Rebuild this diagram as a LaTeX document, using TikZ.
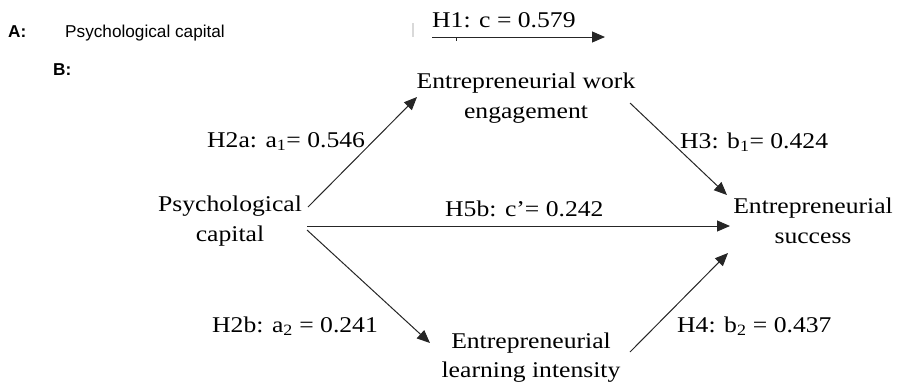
\documentclass[tikz,border=0pt]{standalone}
\usepackage{fontspec}
\setmainfont[FakeStretch=1.14]{Liberation Serif}
\newfontfamily\arialf{Liberation Sans}
\usetikzlibrary{arrows.meta}
\begin{document}
\begin{tikzpicture}[x=1pt,y=-1pt,
  lbl/.style={inner sep=0pt,font=\fontsize{22.5}{30}\selectfont},
  var/.style={lbl,align=center},
  sml/.style={inner sep=0pt,font=\arialf\fontsize{17.2}{20}\selectfont},
  smb/.style={inner sep=0pt,font=\arialf\bfseries\fontsize{17.2}{20}\selectfont},
  arr/.style={draw=black!85,line width=1pt,-{Triangle[length=13pt,width=11pt]}}]
\useasboundingbox (0,0) rectangle (905,384);
% part A
\node[smb,anchor=base west] (A) at (8,37) {A:};
\node[sml,anchor=base west] (pca) at (65,37) {Psychological capital};
\node[lbl,anchor=base west] (h1) at (432,27) {H1: c = 0.579};
\draw[gray!30,line width=1.5pt] ([shift={(-19,-4)}]h1.base west) -- ([shift={(-19,10)}]h1.base west);
\draw[arr] ([shift={(0,10)}]h1.base west) -- ([shift={(173,10)}]h1.base west);
\draw[black!85,line width=1pt] ([shift={(24,10)}]h1.base west) -- ([shift={(24,14)}]h1.base west);
% part B
\node[smb,anchor=base west] (B) at (53,75) {B:};
\node[var,anchor=base] (pc) at (230,241) {Psychological\\capital};
\node[var,anchor=base] (ewe) at (526,118) {Entrepreneurial work\\engagement};
\node[var,anchor=base] (es) at (813,243) {Entrepreneurial\\success};
\node[var,anchor=base,font=\fontsize{22.5}{29}\selectfont] (eli) at (531,377) {Entrepreneurial\\learning intensity};
% labels
\node[lbl,anchor=base west] (h2a) at (207,147) {H2a: a\textsubscript{1}= 0.546};
\node[lbl,anchor=base west] (h3) at (680,148) {H3: b\textsubscript{1}= 0.424};
\node[lbl,anchor=base west] (h5b) at (445,216) {H5b: c’= 0.242};
\node[lbl,anchor=base west] (h2b) at (212,332) {H2b: a\textsubscript{2} = 0.241};
\node[lbl,anchor=base west] (h4) at (677,332) {H4: b\textsubscript{2} = 0.437};
% arrows
\draw[arr] ([shift={(78,-34)}]pc.base) -- ([shift={(-109,-21)}]ewe.base);
\draw[arr] ([shift={(104,-15)}]ewe.base) -- ([shift={(-86,-48)}]es.base);
\draw[arr] ([shift={(77,-15)}]pc.base) -- ([shift={(-83,-17)}]es.base);
\draw[arr] ([shift={(77,-11)}]pc.base) -- ([shift={(-101,-34)}]eli.base);
\draw[arr] ([shift={(99,-25)}]eli.base) -- ([shift={(-85,10)}]es.base);
\end{tikzpicture}
\end{document}
